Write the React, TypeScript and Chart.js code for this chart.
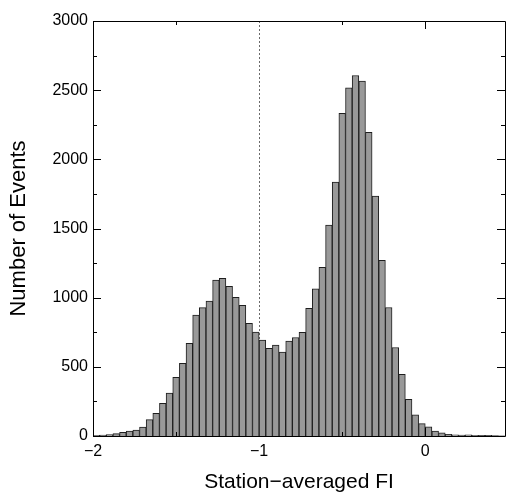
import React, { useEffect, useRef } from 'react';
import { Chart, registerables } from 'chart.js';

Chart.register(...registerables);

// Histogram bin centres (Station-averaged FI), bin width 0.04
const binCenters = [
  -1.98, -1.94, -1.9, -1.86, -1.82, -1.78, -1.74, -1.7, -1.66, -1.62,
  -1.58, -1.54, -1.5, -1.46, -1.42, -1.38, -1.34, -1.3, -1.26, -1.22,
  -1.18, -1.14, -1.1, -1.06, -1.02, -0.98, -0.94, -0.9, -0.86, -0.82,
  -0.78, -0.74, -0.7, -0.66, -0.62, -0.58, -0.54, -0.5, -0.46, -0.42,
  -0.38, -0.34, -0.3, -0.26, -0.22, -0.18, -0.14, -0.1, -0.06, -0.02,
  0.02, 0.06, 0.1, 0.14, 0.18, 0.22, 0.26, 0.3, 0.34, 0.38,
  0.42, 0.46,
];

const eventCounts = [
  5, 6, 10, 17, 27, 36, 43, 65, 118, 164,
  236, 310, 425, 525, 670, 875, 928, 976, 1128, 1140,
  1082, 1003, 945, 815, 751, 693, 634, 657, 606, 686,
  712, 750, 923, 1064, 1219, 1525, 1836, 2332, 2517, 2606,
  2565, 2195, 1735, 1270, 929, 640, 446, 265, 153, 90,
  66, 35, 23, 12, 8, 6, 8, 5, 4, 4,
  3, 2,
];

const xMin = -2;
const xMax = 0.48;
const xTickValues = [-2, -1, 0];
const xTickLabels = ['\u22122', '\u22121', '0'];
const xMinorTicks = [-1.5, -0.5];
const yMin = 0;
const yMax = 3000;
const yTickValues = [0, 500, 1000, 1500, 2000, 2500, 3000];
const yTickLabels = ['0', '500', '1000', '1500', '2000', '2500', '3000'];
const yMinorTicks = [250, 750, 1250, 1750, 2250, 2750];
const thresholdFI = -1;

const xTitle = 'Station\u2212averaged FI';
const yTitle = 'Number of Events';

const FONT = '"Liberation Sans", Arial, Helvetica, sans-serif';

const thresholdPlugin = {
  id: 'thresholdLine',
  beforeDatasetsDraw(chart: any) {
    const { ctx, chartArea, scales } = chart;
    const x = Math.round(scales.x.getPixelForValue(thresholdFI)) + 0.5;
    ctx.save();
    ctx.strokeStyle = '#444';
    ctx.lineWidth = 0.8;
    ctx.setLineDash([2, 2]);
    ctx.beginPath();
    ctx.moveTo(x, chartArea.top);
    ctx.lineTo(x, chartArea.bottom);
    ctx.stroke();
    ctx.restore();
  },
};

const framePlugin = {
  id: 'frameTicks',
  afterDatasetsDraw(chart: any) {
    const { ctx, chartArea, scales } = chart;
    const { left, right, top, bottom } = chartArea;
    ctx.save();
    ctx.strokeStyle = '#000';
    ctx.lineWidth = 1;
    ctx.setLineDash([]);
    ctx.beginPath();
    ctx.rect(Math.round(left) + 0.5, Math.round(top) + 0.5, Math.round(right - left), Math.round(bottom - top));
    ctx.stroke();
    const major = 8;
    const minor = 4;
    ctx.beginPath();
    const xt = (v: number, len: number) => {
      const px = Math.round(scales.x.getPixelForValue(v)) + 0.5;
      ctx.moveTo(px, bottom);
      ctx.lineTo(px, bottom - len);
      ctx.moveTo(px, top);
      ctx.lineTo(px, top + len);
    };
    xTickValues.forEach((v) => { if (v !== thresholdFI) xt(v, major); });
    xMinorTicks.forEach((v) => xt(v, minor));
    const yt = (v: number, len: number) => {
      const py = Math.round(scales.y.getPixelForValue(v)) + 0.5;
      ctx.moveTo(left, py);
      ctx.lineTo(left + len, py);
      ctx.moveTo(right, py);
      ctx.lineTo(right - len, py);
    };
    yTickValues.forEach((v) => yt(v, major));
    yMinorTicks.forEach((v) => yt(v, minor));
    ctx.stroke();
    ctx.restore();
  },
};

export default function App() {
  const canvasRef = useRef<HTMLCanvasElement | null>(null);

  useEffect(() => {
    document.body.style.margin = '0';
    const canvas = canvasRef.current;
    if (!canvas) return;
    const chart = new Chart(canvas, {
      type: 'bar',
      data: {
        datasets: [
          {
            label: 'Events',
            data: binCenters.map((x, i) => ({ x, y: eventCounts[i] })),
            backgroundColor: '#999999',
            borderColor: '#1e1e1e',
            borderWidth: 1,
            barPercentage: 1,
            categoryPercentage: 1,
          },
        ],
      },
      options: {
        animation: false,
        responsive: true,
        maintainAspectRatio: false,
        events: [],
        layout: { padding: { top: 21, right: 1, left: 0, bottom: 0 } },
        plugins: {
          legend: { display: false },
          tooltip: { enabled: false },
        },
        scales: {
          x: {
            type: 'linear',
            min: xMin,
            max: xMax,
            offset: false,
            grid: { display: false, drawTicks: false },
            border: { display: false },
            afterBuildTicks: (s: any) => {
              s.ticks = xTickValues.map((v) => ({ value: v }));
            },
            afterFit: (s: any) => {
              s.height = 57;
            },
            ticks: {
              color: '#000',
              padding: 6,
              maxRotation: 0,
              autoSkip: false,
              font: { family: FONT, size: 16 },
              callback: (v: any) => {
                const i = xTickValues.indexOf(Number(v));
                return i >= 0 ? xTickLabels[i] : '';
              },
            },
            title: {
              display: true,
              text: xTitle,
              color: '#000',
              font: { family: FONT, size: 21 },
              padding: { top: 0, bottom: -2 },
            },
          },
          y: {
            type: 'linear',
            min: yMin,
            max: yMax,
            grid: { display: false, drawTicks: false },
            border: { display: false },
            afterBuildTicks: (s: any) => {
              s.ticks = yTickValues.map((v) => ({ value: v }));
            },
            afterFit: (s: any) => {
              s.width = 93;
            },
            ticks: {
              color: '#000',
              padding: 5,
              autoSkip: false,
              font: { family: FONT, size: 16 },
              callback: (v: any) => {
                const i = yTickValues.indexOf(Number(v));
                return i >= 0 ? yTickLabels[i] : '';
              },
            },
            title: {
              display: true,
              text: yTitle,
              color: '#000',
              font: { family: FONT, size: 22 },
              padding: { top: 6, bottom: 0 },
            },
          },
        },
      },
      plugins: [thresholdPlugin, framePlugin],
    } as any);
    return () => chart.destroy();
  }, []);

  return (
    <div style={{ position: 'fixed', left: 0, top: 0, width: 506, height: 493 }}>
      <canvas ref={canvasRef} />
    </div>
  );
}
